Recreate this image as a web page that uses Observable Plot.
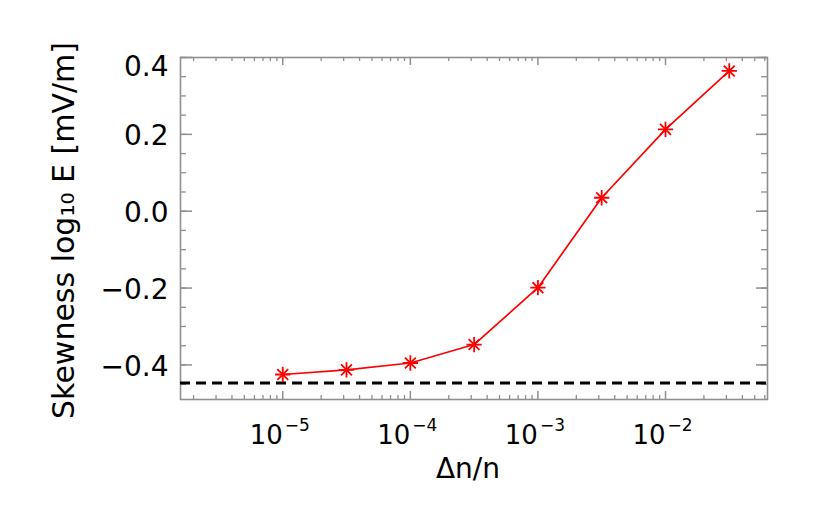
<!DOCTYPE html>
<html><head><meta charset="utf-8">
<script src="https://cdn.jsdelivr.net/npm/d3@7"></script>
<script src="https://cdn.jsdelivr.net/npm/@observablehq/plot@0.6"></script>
<style>body{margin:0;background:#fff} #chart{width:822px;height:514px}</style>
</head><body><div id="chart"></div>
<script>
// Data
const deltaN = [1e-5, 3.16e-5, 1e-4, 3.16e-4, 1e-3, 3.16e-3, 1e-2, 3.16e-2];
const skewness = [-0.425, -0.413, -0.395, -0.347, -0.199, 0.035, 0.213, 0.365];
const baselineLevel = [-0.447];

// Axis ticks and labels
const xMajorTicks = [1e-5, 1e-4, 1e-3, 1e-2];
const xTickBase = ["10", "10", "10", "10"];
const xTickExponents = ["\u22125", "\u22124", "\u22123", "\u22122"];
const yMajorTicks = [-0.4, -0.2, 0.0, 0.2, 0.4];
const yTickLabels = ["\u22120.4", "\u22120.2", "0.0", "0.2", "0.4"];
const xDomain = [1.58e-6, 6.3e-2];
const yDomain = [-0.49, 0.4];
const xTitle = "\u0394n/n";
const yTitle = "Skewness log\u2081\u2080 E [mV/m]";

const points = deltaN.map((x, i) => ({x, y: skewness[i]}));

// minor tick positions
const xMinorTicks = [];
for (let e = -6; e <= -2; e++) for (let m = 2; m <= 9; m++) {
  const v = m * Math.pow(10, e);
  if (v > xDomain[0] && v < xDomain[1]) xMinorTicks.push(v);
}
const yMinorTicks = d3.range(-0.45, 0.41, 0.05).map(v => +v.toFixed(2));

const W = 822, H = 514;
const mL = 180, mR = 55, mT = 57, mB = 115;
const iW = W - mL - mR, iH = H - mT - mB;
const frameColor = "#8f8f8f";
const font = "DejaVu Sans";

const topLabelIdx = yMajorTicks.length - 1;

const chart = Plot.plot({
  width: W, height: H,
  marginLeft: mL, marginRight: mR, marginTop: mT, marginBottom: mB,
  style: {fontFamily: font, background: "white", color: "black", overflow: "visible"},
  x: {type: "log", domain: xDomain, axis: null},
  y: {domain: yDomain, axis: null},
  marks: [
    // ticks (inward, mirrored)
    Plot.tickX(xMinorTicks, {x: d => d, insetTop: iH - 4, stroke: frameColor, strokeWidth: 1.3}),
    Plot.tickX(xMinorTicks, {x: d => d, insetBottom: iH - 4, stroke: frameColor, strokeWidth: 1.3}),
    Plot.tickX(xMajorTicks, {x: d => d, insetTop: iH - 8, stroke: frameColor, strokeWidth: 1.5}),
    Plot.tickX(xMajorTicks, {x: d => d, insetBottom: iH - 8, stroke: frameColor, strokeWidth: 1.5}),
    Plot.tickY(yMinorTicks, {y: d => d, insetRight: iW - 6, stroke: frameColor, strokeWidth: 1.3}),
    Plot.tickY(yMinorTicks, {y: d => d, insetLeft: iW - 6, stroke: frameColor, strokeWidth: 1.3}),
    Plot.tickY(yMajorTicks, {y: d => d, insetRight: iW - 12, stroke: frameColor, strokeWidth: 1.5}),
    Plot.tickY(yMajorTicks, {y: d => d, insetLeft: iW - 11, stroke: frameColor, strokeWidth: 1.5}),
    Plot.frame({stroke: frameColor, strokeWidth: 1.6}),
    // dashed reference level
    Plot.ruleY(baselineLevel, {y: d => d, stroke: "black", strokeWidth: 3.2, strokeDasharray: "10,6"}),
    // data
    Plot.line(points, {x: "x", y: "y", stroke: "#ff0000", strokeWidth: 1.7}),
    Plot.dot(points, {x: "x", y: "y", symbol: "plus", r: 5, stroke: "#ff0000", strokeWidth: 1.8}),
    Plot.dot(points, {x: "x", y: "y", symbol: "times", r: 5, stroke: "#ff0000", strokeWidth: 1.8}),
    // y tick labels
    Plot.text(yMajorTicks.slice(0, topLabelIdx), {y: d => d, text: (d, i) => yTickLabels[i], frameAnchor: "left", textAnchor: "end", lineAnchor: "middle", dx: -12, dy: 2, fontSize: 28, fill: "black"}),
    Plot.text(yMajorTicks.slice(topLabelIdx), {y: d => d, text: d => yTickLabels[topLabelIdx], frameAnchor: "left", textAnchor: "end", lineAnchor: "middle", dx: -12, dy: 10, fontSize: 28, fill: "black"}),
    // x tick labels: base and superscript exponent
    Plot.text(xMajorTicks, {x: d => d, text: (d, i) => xTickBase[i], frameAnchor: "bottom", textAnchor: "end", lineAnchor: "bottom", dx: 0, dy: 44, fontSize: 26, fill: "black"}),
    Plot.text(xMajorTicks, {x: d => d, text: (d, i) => xTickExponents[i], frameAnchor: "bottom", textAnchor: "start", lineAnchor: "bottom", dx: 2, dy: 31, fontSize: 17, fill: "black"}),
    // axis titles
    Plot.text([xTitle], {text: d => d, frameAnchor: "bottom", textAnchor: "middle", lineAnchor: "bottom", dx: -6, dy: 78, fontSize: 28, fill: "black"}),
    Plot.text([yTitle], {text: d => d, frameAnchor: "left", textAnchor: "middle", lineAnchor: "bottom", rotate: -90, dx: -107, dy: 2, fontSize: 30, fill: "black"})
  ]
});
document.getElementById("chart").appendChild(chart);
</script>
</body></html>
